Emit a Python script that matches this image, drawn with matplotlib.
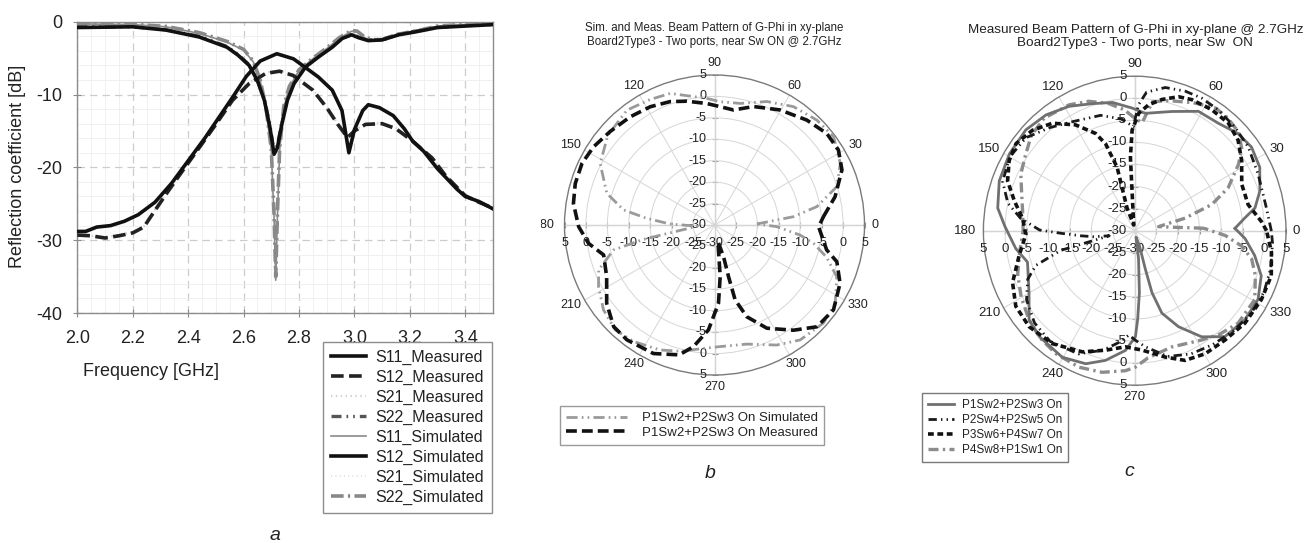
import numpy as np
import matplotlib
matplotlib.use('Agg')
import matplotlib.pyplot as plt
from matplotlib.transforms import Bbox

plt.rcParams['font.family'] = ['Liberation Sans', 'DejaVu Sans']
plt.rcParams['axes.unicode_minus'] = False

# ---------------- data: panel a ----------------
f_s11_meas = [2.00, 2.10, 2.20, 2.32, 2.44, 2.54, 2.58, 2.62, 2.65, 2.675, 2.695, 2.71, 2.722, 2.738,
              2.758, 2.782, 2.824, 2.872, 2.92, 2.956, 2.99, 3.015, 3.05, 3.10, 3.16, 3.22, 3.30, 3.40, 3.50]
s11_meas = [-0.8, -0.75, -0.7, -1.15, -2.1, -3.5, -4.6, -6.0, -8.1, -10.8, -14.5, -18.2, -17.3, -14.1,
            -10.8, -8.5, -6.2, -4.8, -3.5, -2.3, -1.8, -2.2, -2.6, -2.5, -1.8, -1.4, -0.8, -0.6, -0.4]
s22_meas = [-0.7, -0.7, -0.7, -1.1, -2.0, -3.4, -4.5, -5.9, -8.0, -10.6, -14.2, -17.8, -17.0, -13.8,
            -10.6, -8.4, -6.1, -4.7, -3.4, -2.2, -1.7, -2.1, -2.5, -2.4, -1.7, -1.3, -0.8, -0.5, -0.4]

f_s11_sim = [2.00, 2.10, 2.20, 2.32, 2.44, 2.54, 2.60, 2.635, 2.66, 2.68, 2.70, 2.71, 2.716, 2.722, 2.73,
             2.745, 2.765, 2.80, 2.85, 2.90, 2.945, 2.99, 3.01, 3.04, 3.08, 3.11, 3.16, 3.23, 3.30, 3.40, 3.50]
s11_sim = [-0.3, -0.35, -0.4, -0.7, -1.6, -2.8, -3.9, -5.5, -8.1, -11.8, -17.7, -27.0, -35.5, -27.0, -17.7,
           -11.8, -9.0, -6.7, -5.1, -3.7, -2.3, -1.3, -1.4, -2.3, -2.6, -2.5, -1.8, -1.3, -0.6, -0.4, -0.3]
s22_sim = [-0.2, -0.3, -0.35, -0.65, -1.5, -2.7, -3.8, -5.4, -8.0, -11.6, -17.5, -26.5, -35.0, -26.5, -17.5,
           -11.6, -8.9, -6.6, -5.0, -3.6, -2.2, -1.2, -1.3, -2.2, -2.5, -2.4, -1.7, -1.2, -0.6, -0.35, -0.25]

f_s12_sim = [2.00, 2.03, 2.07, 2.12, 2.17, 2.22, 2.28, 2.34, 2.40, 2.46, 2.51, 2.56, 2.61, 2.66, 2.72, 2.78,
             2.82, 2.87, 2.92, 2.955, 2.98, 3.00, 3.03, 3.05, 3.09, 3.14, 3.18, 3.21, 3.25, 3.30, 3.33, 3.37,
             3.40, 3.45, 3.50]
s12_sim = [-28.8, -28.8, -28.2, -28.0, -27.4, -26.5, -24.8, -22.2, -19.1, -16.0, -13.2, -10.4, -7.5, -5.4,
           -4.4, -5.1, -6.2, -7.6, -9.4, -12.2, -18.0, -14.8, -12.2, -11.4, -11.8, -12.9, -14.7, -16.4, -17.8,
           -20.2, -21.4, -23.0, -24.0, -24.7, -25.7]
s21_sim = [-28.9, -28.8, -28.3, -28.0, -27.5, -26.6, -24.9, -22.3, -19.2, -16.1, -13.3, -10.5, -7.6, -5.5,
           -4.5, -5.2, -6.3, -7.7, -9.5, -12.3, -17.8, -14.7, -12.3, -11.5, -11.9, -13.0, -14.8, -16.5, -17.9,
           -20.3, -21.5, -23.1, -24.1, -24.8, -25.7]

f_s12_meas = [2.00, 2.05, 2.10, 2.15, 2.20, 2.24, 2.27, 2.32, 2.37, 2.44, 2.50, 2.56, 2.62, 2.68, 2.73, 2.78,
              2.85, 2.90, 2.94, 2.975, 3.00, 3.04, 3.10, 3.15, 3.21, 3.28, 3.33, 3.40, 3.45, 3.50]
s12_meas = [-29.3, -29.4, -29.7, -29.4, -29.0, -28.2, -26.5, -23.7, -21.0, -17.3, -14.1, -10.8, -8.5, -7.1,
            -6.8, -7.4, -9.4, -11.8, -14.1, -15.9, -15.0, -14.1, -14.0, -14.7, -16.4, -18.7, -21.2, -23.9,
            -24.8, -25.6]
s21_meas = [-29.2, -29.4, -29.6, -29.3, -28.9, -28.1, -26.4, -23.6, -20.9, -17.2, -14.0, -10.7, -8.4, -7.0,
            -6.7, -7.3, -9.3, -11.7, -14.0, -15.7, -14.9, -14.0, -13.9, -14.6, -16.3, -18.6, -21.1, -23.8,
            -24.7, -25.5]

# ---------------- data: panel b ----------------
b_meas_ang = [4.4, 13.2, 23.4, 31.2, 39.2, 48.7, 60.3, 71.8, 80.6, 88.9, 93.6, 102.6, 109.8, 118.5, 127.9,
              138.2, 147.1, 155.0, 163.4, 171.3, 180.7, 188.3, 195.1, 205.6, 216.0, 225.2, 232.7, 244.6, 254.8,
              260.2, 266.7, 272.9, 276.3, 279.0, 282.0, 285.9, 285.2, 285.4, 289.4, 296.9, 306.9, 315.2, 324.5,
              335.1, 343.3, 347.5, 359.0]
b_meas_val = [-4.5, -1.1, 2.4, 3.8, 3.8, 2.6, 0.9, -0.9, -2.8, -2.2, -1.6, -0.4, 0.6, 1.4, 2.0, 2.7, 3.6,
              4.1, 3.9, 3.3, 1.7, -0.3, -3.2, -2.1, 1.1, 3.4, 3.7, 3.2, 1.4, -1.2, -5.5, -11.7, -17.9, -24.1,
              -26.0, -22.3, -17.5, -11.9, -7.3, -3.0, 0.7, 3.7, 4.1, 2.3, -0.2, -3.2, -5.7]

b_sim_ang = [1.4, 6.0, 10.2, 17.4, 26.1, 36.6, 45.7, 56.3, 67.0, 78.0, 87.4, 93.5, 108.6, 117.1, 127.3,
             140.0, 151.7, 163.6, 170.6, 174.4, 178.7, 184.0, 191.4, 193.9, 201.2, 208.0, 217.4, 226.6, 235.2,
             246.5, 255.0, 265.0, 272.7, 285.2, 297.4, 306.7, 318.0, 327.0, 337.0, 344.0, 349.5, 353.3, 358.5]
b_sim_val = [-20.1, -11.5, -5.7, -0.1, 2.7, 4.6, 4.2, 3.2, 1.3, -1.0, -1.2, -0.4, 2.4, 2.9, 3.7, 2.5, 0.3,
             -3.8, -8.5, -14.1, -19.6, -26.0, -13.1, -5.7, -1.0, 0.65, 2.6, 3.7, 3.1, 1.8, 0.5, -1.1, -1.6,
             -1.2, 1.55, 3.45, 4.2, 3.6, 1.0, -2.8, -6.5, -9.9, -15.5]

# ---------------- data: panel c ----------------
c1_ang = [1.3, 6.4, 10.5, 17.2, 26.4, 35.0, 42.6, 51.5, 61.4, 72.3, 84.7, 91.3, 100.0, 108.8, 118.3, 128.0,
          137.8, 149.0, 160.2, 170.8, 178.3, 188.4, 196.0, 209.9, 219.6, 227.4, 239.7, 249.4, 257.0, 265.5,
          270.4, 272.0, 274.4, 278.0, 282.0, 288.0, 285.8, 285.9, 288.6, 295.0, 302.8, 311.0, 321.6, 331.4,
          340.8, 348.6, 356.0]
c1_val = [-6.8, -4.4, -1.7, 0.3, 2.3, 3.0, 2.5, 1.1, 0.8, -1.65, -3.3, -2.2, -0.5, 0.4, 2.0, 3.3, 4.0, 3.8,
          3.3, 2.1, 0.0, -2.2, -4.2, -1.8, 1.7, 2.6, 3.2, 2.2, 0.16, -2.8, -6.0, -10.0, -15.9, -23.6, -28.5,
          -26.5, -21.0, -15.4, -10.3, -6.0, -1.4, 1.8, 2.5, 2.5, 1.0, -1.7, -4.4]

c2_ang = [0.0, 9.6, 24.2, 35.8, 45.5, 54.8, 62.7, 69.7, 77.7, 85.0, 88.3, 90.7, 97.0, 106.8, 119.7, 130.0,
          140.0, 150.0, 160.0, 168.0, 174.0, 179.6, 182.0, 185.3, 188.3, 191.0, 194.6, 199.0, 204.0, 212.0,
          222.0, 232.0, 245.0, 255.0, 262.0, 266.7, 271.0, 275.3, 285.0, 295.0, 305.0, 315.0, 325.0, 335.0,
          345.0, 355.0]
c2_val = [1.6, 0.9, 1.3, 2.4, 3.0, 3.5, 3.8, 3.7, 3.2, 1.5, -1.5, -6.4, -4.5, -2.7, -1.5, 0.5, 2.8, 3.4,
          2.5, 0.0, -3.5, -8.0, -13.0, -17.5, -20.5, -24.0, -12.3, -5.8, -2.9, -0.5, 1.2, 1.8, 0.8, -2.0,
          -4.5, -6.3, -5.0, -3.6, -0.5, 0.8, 1.5, 2.2, 2.8, 3.0, 2.6, 2.0]

c3_ang = [0.0, 4.0, 12.7, 23.0, 32.7, 40.6, 48.3, 57.0, 66.0, 71.5, 78.0, 83.6, 88.0, 91.5, 93.4, 93.9,
          100.0, 109.0, 106.7, 105.8, 108.9, 112.3, 119.7, 128.0, 136.0, 144.3, 151.3, 159.0, 166.5, 173.8,
          182.0, 191.8, 202.6, 211.9, 221.7, 233.3, 246.2, 256.0, 265.3, 273.6, 283.9, 291.6, 300.3, 310.1,
          320.6, 332.0, 342.1, 351.3]
c3_val = [0.5, -0.6, -3.1, -3.1, -0.6, 1.5, 2.6, 2.7, 2.5, 2.0, 0.4, -1.3, -3.4, -7.2, -13.3, -21.0, -28.7,
          -24.6, -19.8, -15.1, -9.2, -6.2, -2.4, 0.9, 2.8, 3.8, 3.1, 1.5, -1.4, -3.9, -4.8, -2.7, 0.6, 2.4,
          2.7, 1.9, 0.0, -2.1, -3.6, -2.9, -0.5, 1.6, 2.3, 2.4, 3.0, 3.2, 3.2, 2.0]

c4_ang = [2.0, 5.0, 9.5, 13.7, 18.4, 24.2, 32.0, 37.0, 43.0, 50.0, 56.0, 65.0, 75.0, 82.0, 86.0, 90.0, 95.0,
          102.0, 110.0, 118.0, 129.4, 138.0, 146.0, 154.0, 162.0, 170.4, 180.0, 190.0, 200.0, 210.0, 219.6,
          228.0, 236.7, 247.4, 256.8, 266.1, 270.3, 276.0, 288.0, 302.0, 310.0, 318.8, 330.7, 340.0, 346.7,
          352.0, 357.0]
c4_val = [-14.0, -21.0, -24.4, -18.0, -11.2, -6.3, -1.7, 1.0, 2.8, 3.4, 3.5, 2.0, 0.5, -0.5, -5.5, -4.5,
          -2.5, -0.5, 1.2, 2.3, 3.0, 2.2, 0.5, -0.7, -2.5, -3.7, -4.2, -3.0, -1.2, 0.3, 1.7, 2.7, 3.3, 3.5,
          2.95, 1.8, 0.9, -1.0, -2.3, -0.8, 0.6, 1.8, 1.85, -0.3, -2.2, -5.0, -9.0]

rings = [-30, -25, -20, -15, -10, -5, 0, 5]
angle_ticks = list(range(0, 360, 30))

# ---------------- figure ----------------
W, H = 1313, 543
fig = plt.figure(figsize=(W / 100, H / 100), dpi=100)


def fx(px):
    return px / W


def fy(py):
    return 1 - py / H


TXT = '#222222'

# ================= panel a =================
axA = fig.add_axes([fx(77.3), fy(313), fx(493) - fx(77.3), fy(21.7) - fy(313)])
axA.set_xlim(2.0, 3.5)
axA.set_ylim(-40, 0)
axA.set_xticks(np.arange(2.0, 3.41, 0.2))
axA.set_xticklabels(['%.1f' % v for v in np.arange(2.0, 3.41, 0.2)])
axA.set_yticks([-40, -30, -20, -10, 0])
axA.set_xticks(np.arange(2.0, 3.501, 0.05), minor=True)
axA.set_yticks(np.arange(-40, 0.01, 2), minor=True)
axA.tick_params(which='minor', length=0)
axA.tick_params(which='major', direction='inout', length=6, color='#8c8c8c', labelsize=13,
                labelcolor=TXT)
axA.tick_params(axis='x', which='major', pad=9)
axA.tick_params(axis='y', which='major', pad=8)
axA.grid(which='minor', color='#eeeeee', lw=0.6)
axA.grid(which='major', color='#cccccc', lw=0.9, ls=(0, (6, 4)))
axA.set_axisbelow(True)
for s in axA.spines.values():
    s.set_color('#8c8c8c')
    s.set_linewidth(1.0)

# draw order: light/gray first
l_s21m, = axA.plot(f_s12_meas, s21_meas, color='#cfcfcf', lw=1.6, dashes=(0.6, 1.6), zorder=2,
                   label='S21_Measured')
l_s21s, = axA.plot(f_s12_sim, s21_sim, color='#e2e2e2', lw=1.4, dashes=(0.6, 1.6), zorder=2,
                   label='S21_Simulated')
l_s22m, = axA.plot(f_s11_meas, s22_meas, color='#555555', lw=2.4,
                   dashes=(3, 1.5, 0.5, 1.5, 0.5, 1.5), zorder=3, label='S22_Measured')
l_s22s, = axA.plot(f_s11_sim, s22_sim, color='#888888', lw=2.6, dashes=(3.5, 1.2, 0.6, 1.2), zorder=3,
                   label='S22_Simulated')
l_s11s, = axA.plot(f_s11_sim, s11_sim, color='#8a8a8a', lw=1.2, zorder=4, label='S11_Simulated')
l_s12m, = axA.plot(f_s12_meas, s12_meas, color='#222222', lw=2.6, dashes=(3.5, 1.5), zorder=5,
                   label='S12_Measured')
l_s12s, = axA.plot(f_s12_sim, s12_sim, color='#111111', lw=2.6, zorder=6, label='S12_Simulated')
l_s11m, = axA.plot(f_s11_meas, s11_meas, color='#111111', lw=2.6, zorder=6, label='S11_Measured')

fig.text(fx(18), fy(166), 'Reflection coefficient [dB]', fontsize=13, color=TXT, rotation=90,
         ha='center', va='center')
fig.text(fx(83), fy(371.7), 'Frequency [GHz]', fontsize=13, color=TXT, ha='left', va='center')
fig.text(fx(275), fy(535), 'a', fontsize=14, style='italic', color=TXT, ha='center', va='center')

handlesA = [l_s11m, l_s12m, l_s21m, l_s22m, l_s11s, l_s12s, l_s21s, l_s22s]
legA = fig.legend(handles=handlesA, labels=[h.get_label() for h in handlesA],
                  loc='upper left', bbox_to_anchor=(fx(323), fy(342)), bbox_transform=fig.transFigure,
                  fontsize=11.5, frameon=True, fancybox=False, edgecolor='#8c8c8c', framealpha=1,
                  handlelength=2.2, handletextpad=0.6, labelspacing=0.3, borderpad=0.5,
                  borderaxespad=0)
legA.get_frame().set_linewidth(1.0)
for t in legA.get_texts():
    t.set_color(TXT)


# ================= polar helper =================
def polar_panel(center, rx, ry, fs):
    cx, cy = center
    rect = [fx(cx - rx), fy(cy + ry), 2 * rx / W, 2 * ry / H]
    ax = fig.add_axes(rect, projection='polar')
    ax.set_aspect('auto')
    ax.set_ylim(rings[0], rings[-1])
    ax.set_xticks(np.radians(angle_ticks))
    ax.set_xticklabels([])
    ax.set_yticks(rings[1:-1])
    ax.set_yticklabels([])
    ax.grid(True, color='#d6d6d6', lw=0.7)
    ax.spines['polar'].set_color('#7a7a7a')
    ax.spines['polar'].set_linewidth(1.0)
    ax.tick_params(length=0)
    for th in [0, 90, 180, 270]:
        ax.axvline(np.radians(th), color='#a8a8a8', lw=0.9, zorder=1)
    # tick marks along main axes
    for th, mk in [(90, '_'), (270, '_'), (0, '|'), (180, '|')]:
        ax.plot(np.full(len(rings), np.radians(th)), rings, ls='none', marker=mk, ms=5, mew=0.8,
                color='#999999', zorder=1, clip_on=False)
    kw = dict(textcoords='offset pixels', fontsize=fs, color=TXT, annotation_clip=False)
    # vertical labels
    for r in rings:
        ax.annotate(str(r), xy=(np.radians(90), r), xytext=(-8, 0), ha='right', va='center', **kw)
    for r in rings[1:]:
        ax.annotate(str(r), xy=(np.radians(270), r), xytext=(-8, 0), ha='right', va='center', **kw)
    # horizontal labels
    for r in rings[1:]:
        ax.annotate(str(r), xy=(np.radians(180), r), xytext=(0, -18), ha='center', va='center', **kw)
        ax.annotate(str(r), xy=(0, r), xytext=(0, -18), ha='center', va='center', **kw)
    ax.annotate(str(rings[0]), xy=(0, rings[0]), xytext=(0, -18), ha='center', va='center', **kw)
    # angle labels
    texts = {}
    for a in angle_ticks:
        s = str(a)
        hw = len(s) * fs * 0.556 * 100 / 72 / 2
        hh = fs * 0.72 * 100 / 72 / 2
        c, sn = np.cos(np.radians(a)), np.sin(np.radians(a))
        dx = (rx + 7 + hw * abs(c)) * c
        dy = (ry + 7 + hh * abs(sn)) * sn
        t = ax.annotate(s, xy=(0.5, 0.5), xycoords='axes fraction', xytext=(dx, dy),
                        textcoords='offset pixels', ha='center', va='center', fontsize=fs, color=TXT,
                        annotation_clip=False)
        texts[a] = t
    return ax, texts


def closed(ang, val):
    a = np.radians(np.append(ang, ang[0]))
    v = np.append(val, val[0])
    return a, v


# ================= panel b =================
axB, txB = polar_panel((714.5, 225), 150, 150, 9)
# the "180" label is cut by the left edge of this panel in the reference
t180 = txB[180]
x0, y0 = t180.xyann
t180.xyann = (x0 - 3.5, y0)
t180.set_clip_on(True)
t180.set_clip_box(Bbox.from_extents(541, 0, W, H))
a, v = closed(b_sim_ang, b_sim_val)
lb_sim, = axB.plot(a, v, color='#9a9a9a', lw=2.0, dashes=(4, 1.5, 0.6, 1.5, 0.6, 1.5), zorder=4,
                   label='P1Sw2+P2Sw3 On Simulated')
a, v = closed(b_meas_ang, b_meas_val)
lb_meas, = axB.plot(a, v, color='#111111', lw=2.6, dashes=(3, 1.4), zorder=5,
                    label='P1Sw2+P2Sw3 On Measured')

fig.text(fx(714), fy(28), 'Sim. and Meas. Beam Pattern of G-Phi in xy-plane', fontsize=8.3, color=TXT,
         ha='center', va='center')
fig.text(fx(714), fy(42), 'Board2Type3 - Two ports, near Sw ON @ 2.7GHz', fontsize=8.3, color=TXT,
         ha='center', va='center')
legB = fig.legend(handles=[lb_sim, lb_meas], loc='upper left', bbox_to_anchor=(fx(560), fy(406)),
                  bbox_transform=fig.transFigure, fontsize=9.5, frameon=True, fancybox=False,
                  edgecolor='#9a9a9a', framealpha=1, handlelength=4.6, handletextpad=1.2,
                  labelspacing=0.18, borderpad=0.45, borderaxespad=0)
for t in legB.get_texts():
    t.set_color(TXT)
fig.text(fx(710), fy(473), 'b', fontsize=14, style='italic', color=TXT, ha='center', va='center')

# ================= panel c =================
axC, txC = polar_panel((1134.7, 230.7), 151.3, 154.5, 9.5)
a, v = closed(c4_ang, c4_val)
lc4, = axC.plot(a, v, color='#8c8c8c', lw=2.4, dashes=(3, 1.3, 0.7, 1.3), zorder=3,
                label='P4Sw8+P1Sw1 On')
a, v = closed(c1_ang, c1_val)
lc1, = axC.plot(a, v, color='#707070', lw=2.0, zorder=4, label='P1Sw2+P2Sw3 On')
a, v = closed(c2_ang, c2_val)
lc2, = axC.plot(a, v, color='#1a1a1a', lw=2.0, dashes=(3, 1.5, 0.5, 1.5, 0.5, 1.5), zorder=5,
                label='P2Sw4+P2Sw5 On')
a, v = closed(c3_ang, c3_val)
lc3, = axC.plot(a, v, color='#111111', lw=2.6, dashes=(1.6, 1.0), zorder=6, label='P3Sw6+P4Sw7 On')

fig.text(fx(1135.5), fy(29.5), 'Measured Beam Pattern of G-Phi in xy-plane @ 2.7GHz', fontsize=9.7,
         color=TXT, ha='center', va='center')
fig.text(fx(1134.7), fy(43), 'Board2Type3 - Two ports, near Sw  ON', fontsize=9.7, color=TXT,
         ha='center', va='center')
legC = fig.legend(handles=[lc1, lc2, lc3, lc4], loc='upper left', bbox_to_anchor=(fx(922), fy(393)),
                  bbox_transform=fig.transFigure, fontsize=8.5, frameon=True, fancybox=False,
                  edgecolor='#7a7a7a', framealpha=1, handlelength=2.2, handletextpad=0.65,
                  labelspacing=0.25, borderpad=0.5, borderaxespad=0)
for t in legC.get_texts():
    t.set_color(TXT)
fig.text(fx(1129), fy(471), 'c', fontsize=14, style='italic', color=TXT, ha='center', va='center')

fig.savefig('out.png', dpi=100)
